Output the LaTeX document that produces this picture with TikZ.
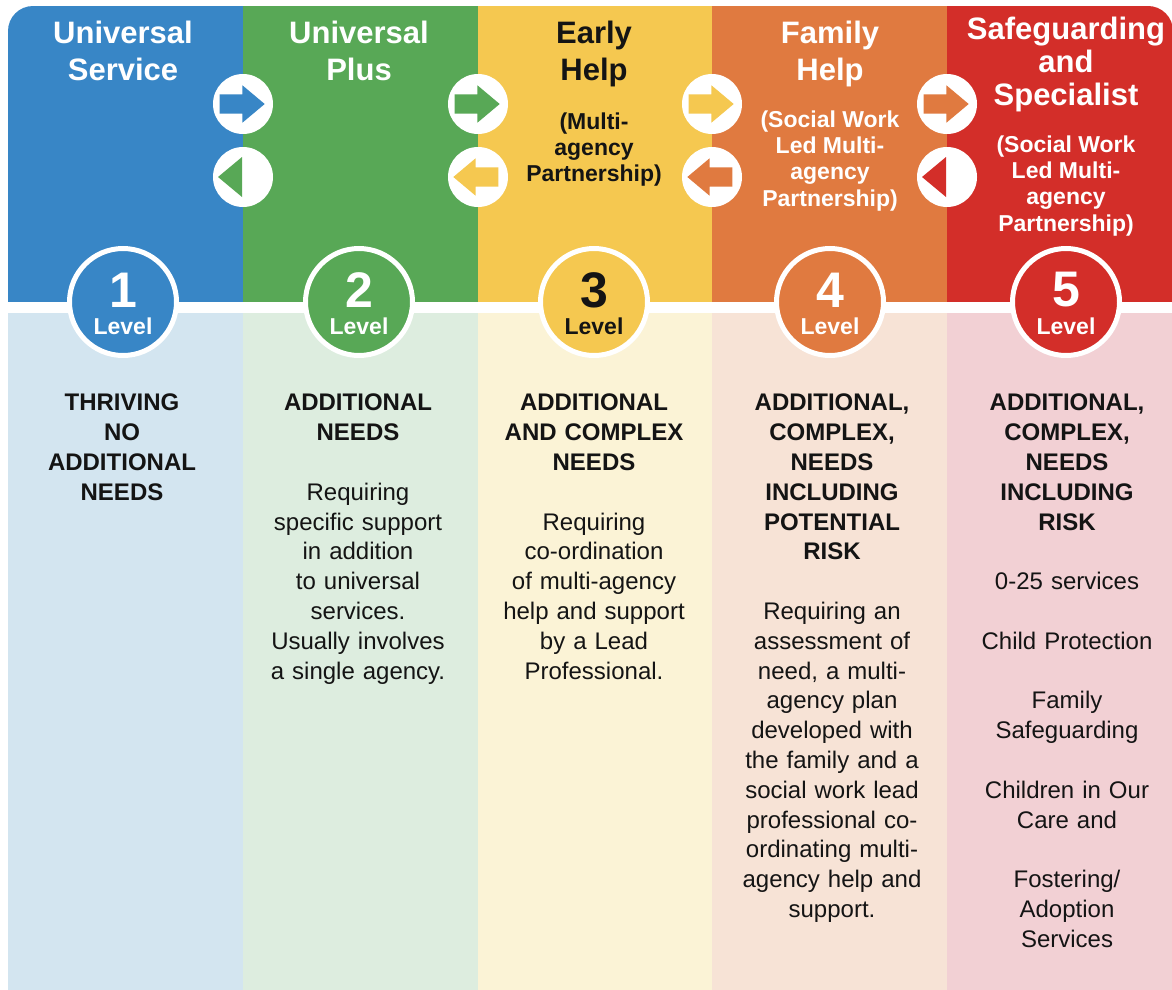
\documentclass[tikz,border=0pt]{standalone}
\usepackage{fontspec}
\setmainfont{Liberation Sans}
\usetikzlibrary{positioning, shapes, calc}
\definecolor{lvblue}{RGB}{56,134,198}
\definecolor{lvgreen}{RGB}{88,168,86}
\definecolor{lvyellow}{RGB}{245,200,80}
\definecolor{lvorange}{RGB}{224,122,64}
\definecolor{lvred}{RGB}{211,46,41}
\definecolor{paleblue}{RGB}{211,229,240}
\definecolor{palegreen}{RGB}{221,237,223}
\definecolor{paleyellow}{RGB}{251,243,214}
\definecolor{paleorange}{RGB}{247,227,214}
\definecolor{palered}{RGB}{242,208,212}
\definecolor{ink}{RGB}{20,20,20}
\tikzset{level/.style={circle, draw=white, line width=5pt, minimum size=107pt, inner sep=0pt}}

\begin{document}
\begin{tikzpicture}[
		x=1pt, y=-1pt,
		node distance=23pt,
		title/.style={white, font=\fontsize{31}{37}\selectfont\bfseries, align=center, anchor=north, inner sep=0pt},
		sub/.style={white, font=\fontsize{23}{26.3}\selectfont\bfseries, align=center, inner sep=0pt},
		needs/.style={ink, font=\fontsize{24}{29.8}\selectfont, text width=230pt, align=center, anchor=north, inner sep=0pt},
		hop/.style={circle, fill=white, minimum size=60pt, inner sep=0pt},
		fwd/.style={single arrow, minimum height=45pt, minimum width=37pt, single arrow head extend=9pt, single arrow tip angle=80, inner xsep=0pt, inner ysep=9.5pt, text height=0pt, text depth=0pt, anchor=tip},
		bck/.style={fwd, shape border rotate=180},
		digit/.style={white, font=\fontsize{50}{50}\selectfont\bfseries, inner sep=0pt},
		word/.style={white, font=\fontsize{23}{23}\selectfont\bfseries, inner sep=0pt}
		]
		\useasboundingbox (0,0) rectangle (1172,990);
		\clip[rounded corners=25pt] (8,6) rectangle (1173,1020);
		
		% top bands and panels
		\fill[lvblue] (8,6) rectangle (243,302);
		\fill[lvgreen] (243,6) rectangle (478,302);
		\fill[lvyellow] (478,6) rectangle (712,302);
		\fill[lvorange] (712,6) rectangle (947,302);
		\fill[lvred] (947,6) rectangle (1173,302);
		\fill[paleblue] (8,313) rectangle (243,1020);
		\fill[palegreen] (243,313) rectangle (478,1020);
		\fill[paleyellow] (478,313) rectangle (712,1020);
		\fill[paleorange] (712,313) rectangle (947,1020);
		\fill[palered] (947,313) rectangle (1173,1020);
		
		\node[title] (t1) at (123,21) {Universal\\Service};
		\node[title] (t2) at (359,21) {Universal\\Plus};
		\node[title, ink] (t3) at (594,21) {Early\\Help};
		\node[title] (t4) at (830,21) {Family\\Help};
		\node[title, font=\fontsize{31}{33}\selectfont\bfseries] (t5) at (1066,17) {Safeguarding\\and\\Specialist};
		
		\node[sub, ink, below=25pt of t3] (s3) {(Multi-\\agency\\Partnership)};
		\node[sub, below=of t4] (s4) {(Social Work\\Led Multi-\\agency\\Partnership)};
		\node[sub, below=of t5] (s5) {(Social Work\\Led Multi-\\agency\\Partnership)};
		
		% arrows between levels
		\node[hop] (fw1) at (243,104) {};
		\node[hop] (bk1) at (243,177) {};
		\node[hop] (fw2) at (478,104) {};
		\node[hop] (bk2) at (478,177) {};
		\node[hop] (fw3) at (712,104) {};
		\node[hop] (bk3) at (712,177) {};
		\node[hop] (fw4) at (947,104) {};
		\node[hop] (bk4) at (947,177) {};
		
		\node[fwd, fill=lvblue] (fa1) at ($(fw1)+(22,0)$) {};
		\node[fwd, fill=lvgreen] (fa2) at ($(fw2)+(22,0)$) {};
		\node[fwd, fill=lvyellow] (fa3) at ($(fw3)+(22,0)$) {};
		\node[fwd, fill=lvorange] (fa4) at ($(fw4)+(22,0)$) {};
		\fill[lvgreen] ($(bk1)+(-25,0)$) -- ++(24,-20) -- ++(0,40) -- cycle;
		\node[bck, fill=lvyellow] (ba2) at ($(bk2)+(-25,0)$) {};
		\node[bck, fill=lvorange] (ba3) at ($(bk3)+(-25,0)$) {};
		\fill[lvred] ($(bk4)+(-25,0)$) -- ++(24,-20) -- ++(0,40) -- cycle;
		
		% level badges
		\node[level, fill=lvblue] (l1) at (123,302) {};
		\node[level, fill=lvgreen] (l2) at (359,302) {};
		\node[level, fill=lvyellow] (l3) at (594,302) {};
		\node[level, fill=lvorange] (l4) at (830,302) {};
		\node[level, fill=lvred] (l5) at (1066,302) {};
		\node[digit] (n1) at ($(l1)+(0,-12)$) {1};
		\node[digit] (n2) at ($(l2)+(0,-12)$) {2};
		\node[digit, ink] (n3) at ($(l3)+(0,-12)$) {3};
		\node[digit] (n4) at ($(l4)+(0,-12)$) {4};
		\node[digit] (n5) at ($(l5)+(0,-12)$) {5};
		\node[word] (w1) at ($(l1)+(0,24)$) {Level};
		\node[word] (w2) at ($(l2)+(0,24)$) {Level};
		\node[word, ink] (w3) at ($(l3)+(0,24)$) {Level};
		\node[word] (w4) at ($(l4)+(0,24)$) {Level};
		\node[word] (w5) at ($(l5)+(0,24)$) {Level};
		
		% needs
		\node[needs] (b1) at (122,394) {\bfseries THRIVING\\NO\\ADDITIONAL\\NEEDS};
		\node[needs] (b2) at (358,394) {\bfseries ADDITIONAL\\NEEDS\\[29.8pt]\mdseries Requiring\\specific support\\in addition\\to universal\\services.\\Usually involves\\a single agency.};
		\node[needs] (b3) at (594,394) {\bfseries ADDITIONAL\\AND COMPLEX\\NEEDS\\[29.8pt]\mdseries Requiring\\co-ordination\\of multi-agency\\help and support\\by a Lead\\Professional.};
		\node[needs] (b4) at (832,394) {\bfseries ADDITIONAL,\\COMPLEX,\\NEEDS\\INCLUDING\\POTENTIAL\\RISK\\[29.8pt]\mdseries Requiring an\\assessment of\\need, a multi-\\agency plan\\developed with\\the family and a\\social work lead\\professional co-\\ordinating multi-\\agency help and\\support.};
		\node[needs] (b5) at (1067,394) {\bfseries ADDITIONAL,\\COMPLEX,\\NEEDS\\INCLUDING\\RISK\\[29.8pt]\mdseries 0-25 services\\[29.8pt]Child Protection\\[29.8pt]Family\\Safeguarding\\[29.8pt]Children in Our\\Care and\\[29.8pt]Fostering/\\Adoption\\Services};
		
	\end{tikzpicture}
\end{document}
